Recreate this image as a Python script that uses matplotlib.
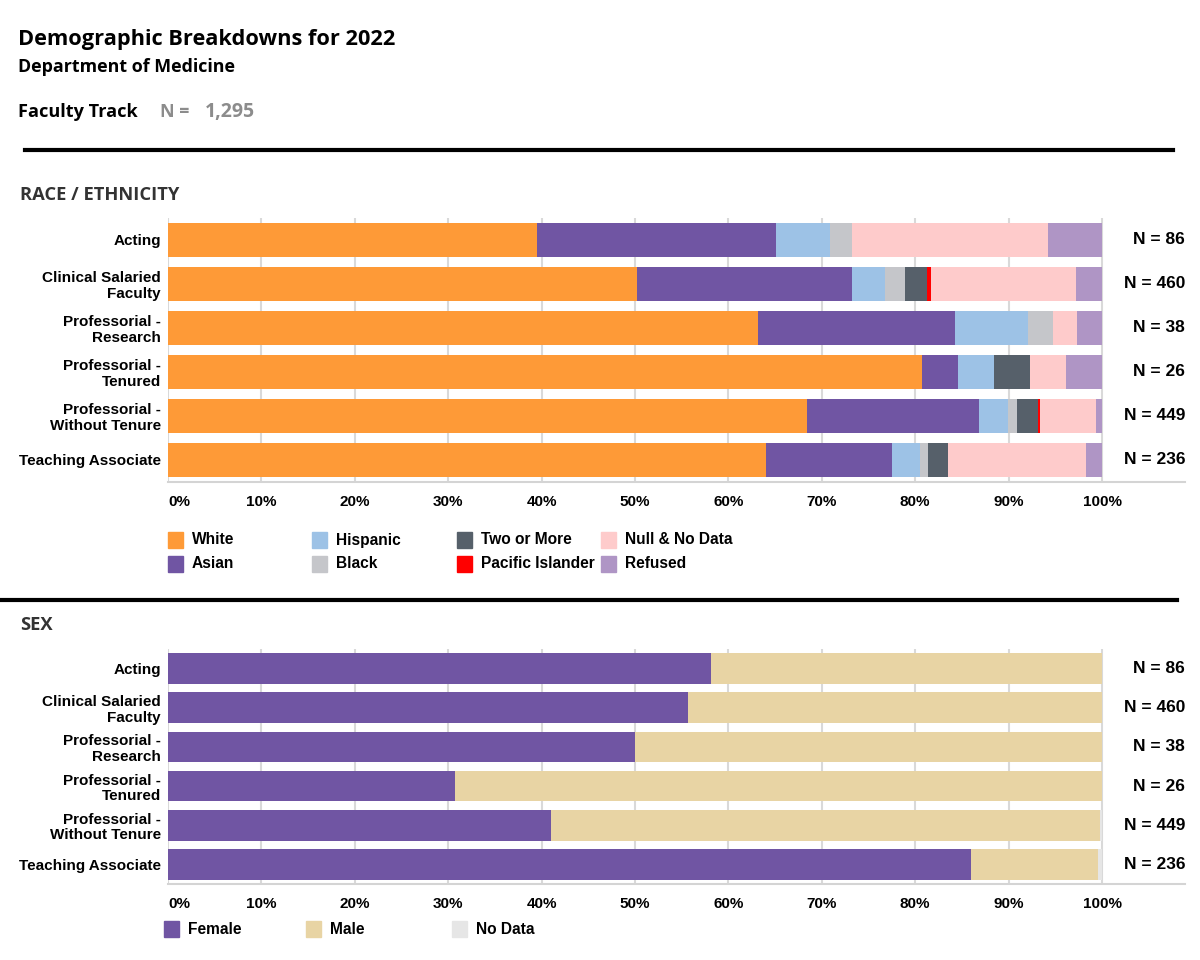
import numpy as np
import matplotlib
matplotlib.use("Agg")
import matplotlib.pyplot as plt
from matplotlib.patches import Rectangle
from matplotlib.lines import Line2D

## data
categories = ["Acting", "Clinical Salaried\nFaculty", "Professorial -\nResearch",
              "Professorial -\nTenured", "Professorial -\nWithout Tenure", "Teaching Associate"]
n_counts = [86, 460, 38, 26, 449, 236]
total_n = "1,295"

race_names = ["White", "Asian", "Hispanic", "Black", "Two or More",
              "Pacific Islander", "Null & No Data", "Refused"]
white = [34, 231, 24, 21, 307, 151]
asian = [22, 106, 8, 1, 83, 32]
hispanic = [5, 16, 3, 1, 14, 7]
black = [2, 10, 1, 0, 4, 2]
two_more = [0, 11, 0, 1, 10, 5]
pacific = [0, 2, 0, 0, 1, 0]
null_data = [18, 71, 1, 1, 27, 35]
refused = [5, 13, 1, 1, 3, 4]

sex_names = ["Female", "Male", "No Data"]
female = [50, 256, 19, 8, 184, 203]
male = [36, 204, 19, 18, 264, 32]
sex_nodata = [0, 0, 0, 0, 1, 1]

race_colors = ["#FE9A37", "#7055A3", "#9DC2E6", "#C5C6CA", "#56606A",
               "#FF0000", "#FECBCB", "#AF95C5"]
sex_colors = ["#7055A3", "#E8D4A4", "#E6E6E6"]

W, H = 1200, 960
HEAD = "Open Sans"
BODY = "Liberation Sans"

fig = plt.figure(figsize=(12, 9.6), dpi=100)


def px_axes(left, top, right, bottom):
    return fig.add_axes([left / W, 1 - bottom / H, (right - left) / W, (bottom - top) / H])


def ftext(x, y, s, **kw):
    fig.text(x / W, 1 - y / H, s, va="center", **kw)


def hline(x0, x1, y, lw=3):
    fig.add_artist(Line2D([x0 / W, x1 / W], [1 - y / H, 1 - y / H], color="black",
                          lw=lw, transform=fig.transFigure))


def stacked(ax, series, colors, height):
    n = np.array(n_counts, dtype=float)
    y = np.arange(len(categories))
    left = np.zeros(len(categories))
    for vals, c in zip(series, colors):
        share = np.array(vals) / n
        ax.barh(y, share, left=left, height=height, color=c, zorder=2)
        left += share
    xmax = (1185 - 168) / (1102 - 168)
    ax.set_xlim(0, xmax)
    ax.set_ylim(len(categories) - 0.5, -0.5)
    ticks = np.linspace(0, 1, 11)
    ax.set_xticks(ticks)
    ax.set_xticklabels([f"{int(round(t * 100))}%" for t in ticks],
                       fontfamily=BODY, fontweight="bold", fontsize=11)
    ax.get_xticklabels()[0].set_horizontalalignment("left")
    ax.set_yticks(y)
    ax.set_yticklabels(categories, fontfamily=BODY, fontweight="bold", fontsize=11,
                       linespacing=1.15)
    ax.tick_params(length=0, pad=5)
    ax.tick_params(axis="x", pad=9)
    for s in ["top", "right", "left"]:
        ax.spines[s].set_visible(False)
    ax.spines["bottom"].set_color("#d4d4d4")
    ax.spines["bottom"].set_linewidth(1.5)
    for t in ticks:
        ax.axvline(t, color="#d9d9d9", lw=1.5, zorder=1)
    for i, cnt in enumerate(n_counts):
        ax.text(xmax, i, f"N = {cnt}", ha="right", va="center",
                fontfamily=BODY, fontweight="bold", fontsize=12.5)


def legend(items, colors, xs, ys):
    for (name, c, x, y) in zip(items, colors, xs, ys):
        fig.patches.append(Rectangle((x / W, 1 - (y + 8) / H), 15 / W, 16 / H,
                                     color=c, transform=fig.transFigure))
        ftext(x + 24, y, name, fontfamily=BODY, fontweight="bold", fontsize=11.2)


## header
ftext(18, 40, "Demographic Breakdowns for 2022", fontfamily=HEAD, fontweight="bold", fontsize=15.7)
ftext(18, 67, "Department of Medicine", fontfamily=HEAD, fontweight="bold", fontsize=12.9)
ftext(18, 112, "Faculty Track", fontfamily=HEAD, fontweight="bold", fontsize=13.1)
ftext(160, 112, "N =", fontfamily=HEAD, fontweight="bold", fontsize=12.9, color="#8c8c8c")
ftext(205, 112, total_n, fontfamily=HEAD, fontweight="bold", fontsize=14, color="#8c8c8c")
hline(25, 1173, 150)

## race / ethnicity
ftext(20, 195, "RACE / ETHNICITY", fontfamily=HEAD, fontweight="bold", fontsize=13.2, color="#333333")
ax1 = px_axes(168, 218, 1185, 482)
stacked(ax1, [white, asian, hispanic, black, two_more, pacific, null_data, refused],
        race_colors, 0.76)
legend(race_names, race_colors,
       [168, 168, 312, 312, 457, 457, 601, 601],
       [540, 564, 540, 564, 540, 564, 540, 564])
hline(0, 1177, 600)

## sex
ftext(20, 625, "SEX", fontfamily=HEAD, fontweight="bold", fontsize=13.2, color="#333333")
ax2 = px_axes(168, 649, 1185, 884)
stacked(ax2, [female, male, sex_nodata], sex_colors, 0.78)
legend(sex_names, sex_colors, [164, 306, 452], [929, 929, 929])

fig.savefig("out.png", dpi=100)
